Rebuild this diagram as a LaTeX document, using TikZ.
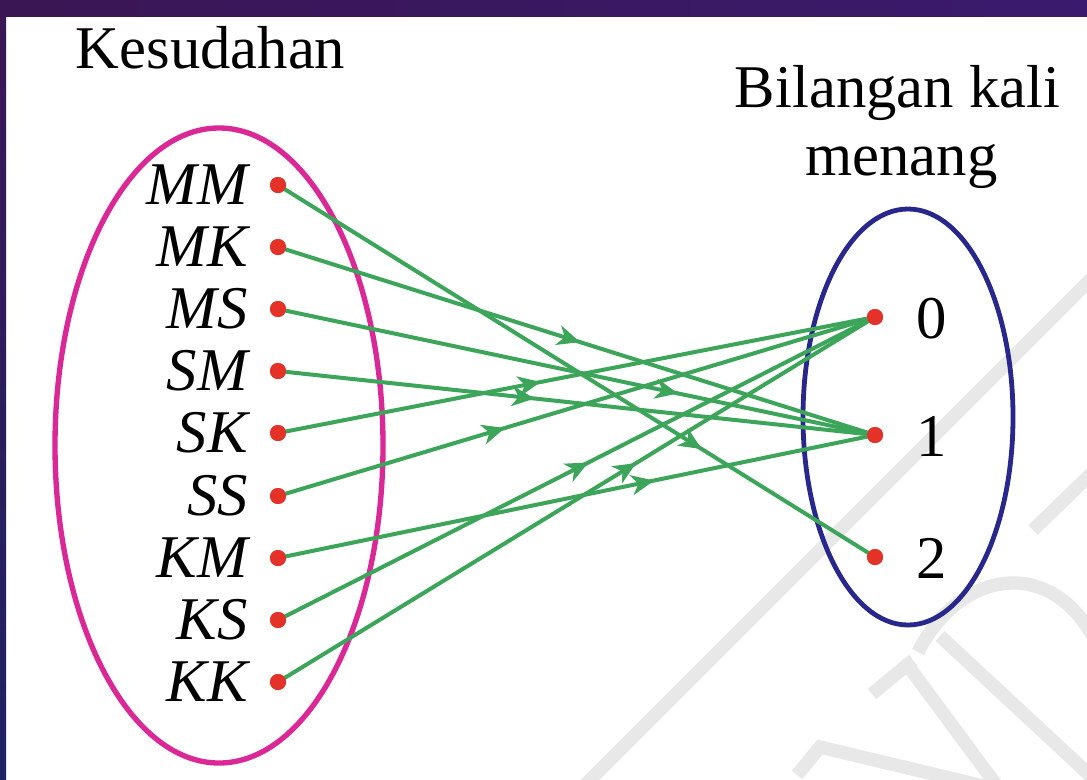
\documentclass[tikz,border=0pt]{standalone}
\usepackage{fontspec}
\setmainfont{Liberation Serif}
\usetikzlibrary{arrows.meta,decorations.markings}
\definecolor{magentaE}{RGB}{218,40,150}
\definecolor{navyE}{RGB}{40,40,140}
\definecolor{greenL}{RGB}{60,165,90}
\definecolor{redD}{RGB}{228,50,40}
\definecolor{wmark}{RGB}{232,232,232}
\definecolor{purpA}{RGB}{58,22,84}
\definecolor{purpB}{RGB}{58,26,110}
\definecolor{navyS}{RGB}{30,35,100}
\tikzset{
  bigtext/.style={font=\fontsize{45.5}{51}\selectfont, inner sep=0pt},
  lbl/.style={bigtext, font=\fontsize{45.5}{51}\selectfont\itshape, anchor=base east},
  dotn/.style={circle, fill=redD, inner sep=0pt, minimum size=12pt},
  link/.style={draw=greenL, line width=3pt, postaction={decorate},
    decoration={markings, mark=at position #1 with {\arrow{Stealth[length=17pt,width=15pt,inset=5pt]}}}},
  wm/.style={draw=wmark, line width=10pt}
}
\begin{document}
\begin{tikzpicture}[x=0.75pt,y=-0.75pt]
\useasboundingbox (0,0) rectangle (1087,779);
\fill[white] (0,0) rectangle (1087,779);
% watermark
\draw[wm] (1095,275) -- (560,810);
\draw[wm] (1033,530) -- (1095,470);
\draw[wm] (906,663) -- (1000,790);
\draw[wm] (872,694) -- (913,660);
\draw[wm] (940,636) -- (1095,780);
\draw[wm] (918,652) .. controls (960,570) and (1050,555) .. (1095,640);
\draw[wm] (797,775) -- (820,747) -- (1000,790);
% frame bands
\shade[left color=purpA, right color=purpB] (0,0) rectangle (1087,16);
\shade[top color=purpA, bottom color=navyS] (0,0) rectangle (6,779);
% titles
\node[bigtext, anchor=base] (title1) at (210.5,68) {Kesudahan};
\node[bigtext, anchor=base] (title2a) at (897.5,107) {Bilangan kali};
\node[bigtext, anchor=base] (title2b) at (901.5,175) {menang};
% ellipses
\draw[magentaE, line width=4pt] (219,445.5) ellipse [x radius=164, y radius=317.5];
\draw[navyE, line width=3.6pt] (908,417) ellipse [x radius=105, y radius=208];
% left dots and labels
\foreach \n/\y in {MM/185, MK/247, MS/309, SM/371, SK/433, SS/496, KM/558, KS/620, KK/682}{
  \node[dotn] (\n) at (278,\y) {};
  \node[lbl] (l\n) at (248,\y+19) {\n};
}
% right dots and labels
\foreach \n/\y in {0/317, 1/435, 2/557}{
  \node[dotn] (r\n) at (875,\y) {};
  \node[bigtext, anchor=base] (t\n) at (932,\y+21) {\n};
}
% connectors
\draw[link=0.71] (MM.center) -- (r2.center);
\draw[link=0.506] (MK.center) -- (r1.center);
\draw[link=0.67] (MS.center) -- (r1.center);
\draw[link=0.43] (SM.center) -- (r1.center);
\draw[link=0.44] (SK.center) -- (r0.center);
\draw[link=0.38] (SS.center) -- (r0.center);
\draw[link=0.63] (KM.center) -- (r1.center);
\draw[link=0.52] (KS.center) -- (r0.center);
\draw[link=0.60] (KK.center) -- (r0.center);
% dots on top of the connectors
\foreach \n in {MM,MK,MS,SM,SK,SS,KM,KS,KK,r0,r1,r2}{
  \fill[redD] (\n.center) circle (6pt);
}
\end{tikzpicture}
\end{document}
